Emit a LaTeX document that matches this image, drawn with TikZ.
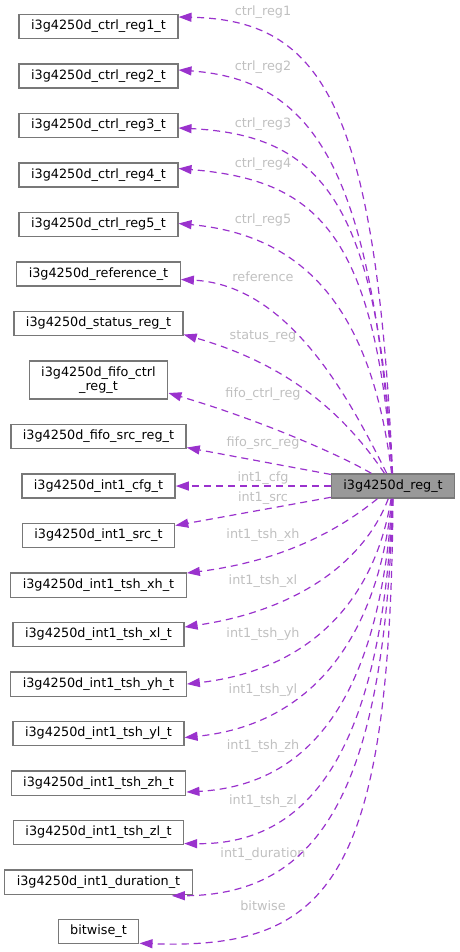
\documentclass[tikz,border=0pt]{standalone}
\usepackage{fontspec}
\setmainfont{DejaVu Sans}
\usepackage{tikz}
\usetikzlibrary{arrows.meta,positioning,calc}
\definecolor{edgepurple}{RGB}{154,50,205}
\definecolor{labelgray}{RGB}{192,192,192}
\definecolor{boxgray}{RGB}{120,120,120}
\definecolor{mainfill}{RGB}{153,153,153}
\newcommand{\dgfont}{\fontsize{12.8}{14.5}\selectfont}

\begin{document}
\begin{tikzpicture}[
        x=1pt, y=-1pt,
        node distance=24pt and 24pt,
        box/.style={draw=boxgray, line width=1.3pt, fill=white, align=center, inner xsep=12pt, inner ysep=5.5pt, minimum height=24.2pt, font=\dgfont},
        mainbox/.style={box, fill=mainfill},
        lbl/.style={text=labelgray, inner sep=0pt, font=\dgfont},
        arr/.style={-{Triangle[length=13pt, width=9pt]}, draw=edgepurple, line width=1.2pt, dash pattern=on 7pt off 5pt}
    ]
    \useasboundingbox (0,0) rectangle (459,952);

    \node[box] (creg1) at (98.5,26.5) {i3g4250d\_ctrl\_reg1\_t};
    \node[box, below=of creg1] (creg2) {i3g4250d\_ctrl\_reg2\_t};
    \node[box, below=of creg2] (creg3) {i3g4250d\_ctrl\_reg3\_t};
    \node[box, below=of creg3] (creg4) {i3g4250d\_ctrl\_reg4\_t};
    \node[box, below=of creg4] (creg5) {i3g4250d\_ctrl\_reg5\_t};
    \node[box, below=of creg5] (ref) {i3g4250d\_reference\_t};
    \node[box, below=of ref] (status) {i3g4250d\_status\_reg\_t};
    \node[box, below=of status] (fifoctrl) {i3g4250d\_fifo\_ctrl\\\_reg\_t};
    \node[box, below=of fifoctrl] (fifosrc) {i3g4250d\_fifo\_src\_reg\_t};
    \node[box, below=of fifosrc] (cfg) {i3g4250d\_int1\_cfg\_t};
    \node[box, below=of cfg] (src) {i3g4250d\_int1\_src\_t};
    \node[box, below=of src] (xh) {i3g4250d\_int1\_tsh\_xh\_t};
    \node[box, below=of xh] (xl) {i3g4250d\_int1\_tsh\_xl\_t};
    \node[box, below=of xl] (yh) {i3g4250d\_int1\_tsh\_yh\_t};
    \node[box, below=of yh] (yl) {i3g4250d\_int1\_tsh\_yl\_t};
    \node[box, below=of yl] (zh) {i3g4250d\_int1\_tsh\_zh\_t};
    \node[box, below=of zh] (zl) {i3g4250d\_int1\_tsh\_zl\_t};
    \node[box, below=of zl] (dur) {i3g4250d\_int1\_duration\_t};
    \node[box, below=of dur] (bw) {bitwise\_t};

    \node[mainbox, right=155pt of cfg] (reg) {i3g4250d\_reg\_t};

    \node[lbl] (lcreg1) at (263,12) {ctrl\_reg1};
    \node[lbl] (lcreg2) at (263,67) {ctrl\_reg2};
    \node[lbl] (lcreg3) at (263,124) {ctrl\_reg3};
    \node[lbl] (lcreg4) at (263,164) {ctrl\_reg4};
    \node[lbl] (lcreg5) at (263,220) {ctrl\_reg5};
    \node[lbl] (lref) at (263,277) {reference};
    \node[lbl] (lstatus) at (263,337) {status\_reg};
    \node[lbl] (lfifoctrl) at (263,394) {fifo\_ctrl\_reg};
    \node[lbl] (lfifosrc) at (263,443) {fifo\_src\_reg};
    \node[lbl] (lcfg) at (263,478) {int1\_cfg};
    \node[lbl] (lsrc) at (263,498) {int1\_src};
    \node[lbl] (lxh) at (263,535) {int1\_tsh\_xh};
    \node[lbl] (lxl) at (263,581) {int1\_tsh\_xl};
    \node[lbl] (lyh) at (263,634) {int1\_tsh\_yh};
    \node[lbl] (lyl) at (263,690) {int1\_tsh\_yl};
    \node[lbl] (lzh) at (263,746) {int1\_tsh\_zh};
    \node[lbl] (lzl) at (263,801) {int1\_tsh\_zl};
    \node[lbl] (ldur) at (263,854) {int1\_duration};
    \node[lbl] (lbw) at (263,906) {bitwise};

    \draw[arr] (reg) .. controls (376,100) and (320,20) .. ($(creg1.east)+(0,-9.5)$);
    \draw[arr] (reg) .. controls (372,170) and (315,80) .. ($(creg2.east)+(0,-6)$);
    \draw[arr] (reg) .. controls (378,200) and (320,135) .. ($(creg3.east)+(0,2.5)$);
    \draw[arr] (reg) .. controls (375,230) and (315,180) .. ($(creg4.east)+(0,-6.5)$);
    \draw[arr] (reg) .. controls (372,310) and (305,235) .. ($(creg5.east)+(0,-1)$);
    \draw[arr] (reg) .. controls (350,400) and (290,285) .. ($(ref.east)+(0,5.5)$);
    \draw[arr] (reg) .. controls (345,415) and (290,365) .. ($(status.east)+(0,11)$);
    \draw[arr] (reg) .. controls (340,455) and (260,420) .. ($(fifoctrl.east)+(0,13)$);
    \draw[arr] (reg) -- ($(fifosrc.east)+(0,11)$);
    \draw[arr] (reg) -- (cfg);
    \draw[arr] (reg) -- ($(src.east)+(0,-10)$);
    \draw[arr] (reg) .. controls (345,525) and (290,560) .. ($(xh.east)+(0,-12)$);
    \draw[arr] (reg) .. controls (365,560) and (300,610) .. ($(xl.east)+(0,-7.5)$);
    \draw[arr] (reg) .. controls (375,600) and (310,670) .. (yh.east);
    \draw[arr] (reg) .. controls (378,640) and (310,725) .. ($(yl.east)+(0,4)$);
    \draw[arr] (reg) .. controls (380,690) and (315,785) .. ($(zh.east)+(0,9)$);
    \draw[arr] (reg) .. controls (382,750) and (310,845) .. ($(zl.east)+(0,11)$);
    \draw[arr] (reg) .. controls (385,790) and (320,895) .. ($(dur.south east)+(-21,1)$);
    \draw[arr] (reg) .. controls (390,880) and (330,950) .. ($(bw.south east)+(0,-1)$);
\end{tikzpicture}
\end{document}
